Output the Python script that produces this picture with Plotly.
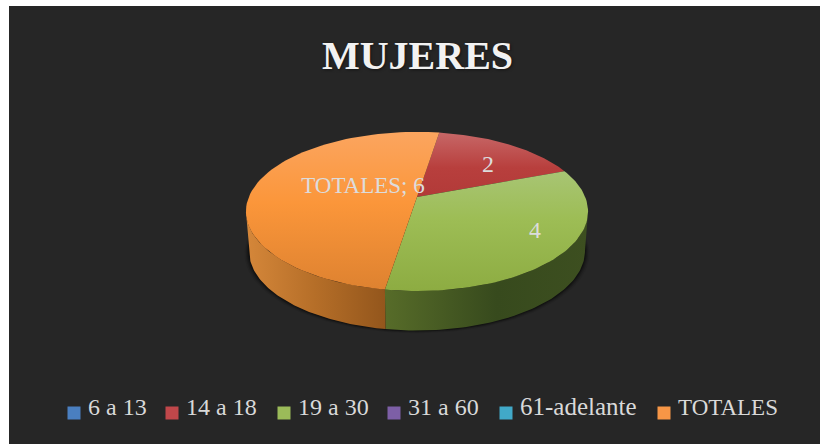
import math
import plotly.graph_objects as go

# ---- data ----
TITLE = "MUJERES"
categories = ["6 a 13", "14 a 18", "19 a 30", "31 a 60", "61-adelante", "TOTALES"]
values = [0, 2, 4, 0, 0, 6]
label_texts = ["", "2", "4", "", "", "TOTALES; 6"]

# ---- styles ----
legend_colors = ["#4a7fc0", "#c0474a", "#9bbb59", "#7d5fa6", "#41a9c8", "#f79646"]
legend_sizes = [24, 24, 24, 24, 25, 23]
label_sizes = {1: 24, 2: 24, 5: 23}
top_grad = {
    1: [(0, "#c76767"), (0.55, "#b83f3d"), (1, "#b23a38")],
    2: [(0, "#a8c574"), (0.4, "#9dbd55"), (1, "#8dac42")],
    5: [(0, "#fba55f"), (0.45, "#fb963a"), (1, "#de8230")],
}
wall_grad = {
    1: [(0, "#7a3030"), (1, "#602020")],
    2: [(0, "#576c29"), (0.55, "#374a1d"), (1, "#3d4f20")],
    5: [(0, "#d5873a"), (0.5, "#b56e28"), (1, "#93561c")],
}
FONT = "Liberation Serif"

# ---- pie geometry (tilted, perspective disc in page pixels) ----
CX, CY, AX, BY, K = 417.0, 197.0, 168.2, 76.9, 0.182
DEPTH, BOTTOM_SCALE = 39.5, 0.982
ROTATION = 9.0
VIS_FROM, VIS_TO = 100.5, 259.5


def disc(theta, r=1.0):
    t = math.radians(theta)
    X, Y = r * math.sin(t), r * math.cos(t)
    w = 1 + K * Y
    return CX + AX * X / w, CY - BY * Y / w


def lower(p):
    return CX + BOTTOM_SCALE * (p[0] - CX), p[1] + DEPTH


def arc(a, b, n=80):
    return [disc(a + (b - a) * i / n) for i in range(n + 1)]


fig = go.Figure()

# soft shadow below the pie
for grow, alpha in [(4.5, 0.08), (3.2, 0.13), (2.0, 0.2), (1, 0.28)]:
    rim = [lower(p) for p in arc(0, 360, 160)]
    sx = [CX + (p[0] - CX) * (1 + grow / 170) for p in rim]
    sy = [p[1] + grow * 0.6 for p in rim]
    fig.add_trace(go.Scatter(x=sx, y=sy, mode="lines", fill="toself", line=dict(width=0),
                             fillcolor=f"rgba(0,0,0,{alpha})", hoverinfo="skip", showlegend=False))

# slices
total = sum(values)
angles = []
cur = ROTATION
for v in values:
    angles.append((cur, cur + 360.0 * v / total))
    cur += 360.0 * v / total

# walls first
for i, (a, b) in enumerate(angles):
    if values[i] == 0:
        continue
    s, e = max(a, VIS_FROM), min(b, VIS_TO)
    if e <= s:
        continue
    up = arc(s, e)
    down = [lower(p) for p in reversed(up)]
    pts = up + down + [up[0]]
    xs = [p[0] for p in pts]
    ys = [p[1] for p in pts]
    fig.add_trace(go.Scatter(
        x=xs, y=ys, mode="lines", fill="toself", line=dict(width=0),
        fillgradient=dict(type="horizontal", colorscale=wall_grad[i], start=min(xs), stop=max(xs)),
        hoverinfo="skip", showlegend=False))

# top faces
for i, (a, b) in enumerate(angles):
    if values[i] == 0:
        continue
    pts = [disc(0, 0)] + arc(a, b) + [disc(0, 0)]
    xs = [p[0] for p in pts]
    ys = [p[1] for p in pts]
    fig.add_trace(go.Scatter(
        x=xs, y=ys, mode="lines", fill="toself", line=dict(width=0),
        fillgradient=dict(type="vertical", colorscale=top_grad[i], start=min(ys), stop=max(ys)),
        hoverinfo="skip", showlegend=False))

# data labels
label_offset = {1: (6.4, 0.642), 2: (-6.8, 0.767), 5: (15, 0.361)}
for i, txt in enumerate(label_texts):
    if not txt:
        continue
    a, b = angles[i]
    d, r = label_offset[i]
    lx, ly = disc((a + b) / 2 + d, r)
    fig.add_trace(go.Scatter(x=[lx], y=[ly + 1.5], mode="text", text=[txt], textposition="middle center",
                             textfont=dict(family=FONT, size=label_sizes[i], color="#dcdcdc"),
                             hoverinfo="skip", showlegend=False))

# legend row
legend_x = [68, 166, 278, 388, 500, 658]
LEGEND_Y = 413
for x0, name, col, fs in zip(legend_x, categories, legend_colors, legend_sizes):
    fig.add_trace(go.Scatter(x=[x0 + 6], y=[LEGEND_Y], mode="markers",
                             marker=dict(symbol="square", size=13, color=col, line=dict(width=0)),
                             hoverinfo="skip", showlegend=False))
    fig.add_trace(go.Scatter(x=[x0 + 20], y=[LEGEND_Y - 4], mode="text", text=[name], textposition="middle right",
                             textfont=dict(family=FONT, size=fs, color="#d9d9d9"),
                             hoverinfo="skip", showlegend=False))

fig.update_layout(
    width=820, height=444,
    margin=dict(l=9, r=0, t=6, b=0),
    paper_bgcolor="#ffffff",
    plot_bgcolor="#262626",
    title=dict(text=TITLE, x=(417.5 - 9) / 811, xanchor="center", xref="paper", y=1 - 55 / 444, yref="container",
               yanchor="middle",
               font=dict(family=FONT, size=40, weight="bold", color="#f2f2f2",
                         shadow="1px 1px 3px rgba(0,0,0,0.5)")),
    xaxis=dict(range=[9, 820], visible=False, fixedrange=True),
    yaxis=dict(range=[444, 6], visible=False, fixedrange=True),
    showlegend=False,
)
fig.write_html("out.html", config={"displayModeBar": False},
               post_script="document.body.style.margin='0';document.body.style.overflow='hidden';")
